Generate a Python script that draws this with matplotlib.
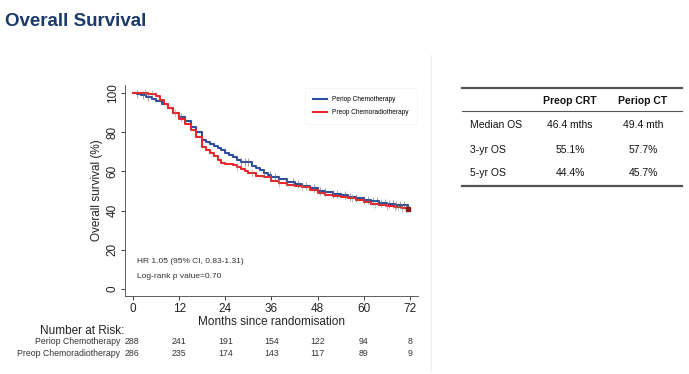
import numpy as np
import matplotlib.pyplot as plt
from matplotlib.transforms import blended_transform_factory

plt.rcParams['font.family'] = ['Liberation Sans', 'DejaVu Sans']

# ---------- Данные ----------
blue_t = [0, 1, 2, 3.5, 5, 6, 7.5, 9, 10.5, 12, 13.5, 15, 16.5, 18, 19, 20, 21, 22, 23, 24,
          25, 26, 27, 28, 30, 31, 32, 33, 34, 35, 36, 38, 40, 42, 44, 46, 48, 50, 52, 54,
          56, 58, 60, 62, 64, 66, 68, 71.5]
blue_s = [100, 99.3, 98.8, 98.1, 97, 96, 94.5, 92.2, 90, 87.9, 85.5, 82.8, 80, 76, 75.2, 74,
          73, 71.8, 70.8, 69.6, 68.2, 67.2, 66, 65, 64.6, 63, 61.6, 60.5, 59.4, 58, 57.3, 56,
          54.8, 53.8, 52.6, 51.5, 50.2, 49.3, 48.5, 47.8, 47.1, 46.3, 45.4, 44.8, 44, 43.4,
          42.9, 42.5]

red_t = [0, 2, 4, 6, 7, 8, 9, 10.5, 12, 13.5, 15, 16.5, 18, 19, 20, 21, 22, 23, 24, 26, 27,
         28, 29, 30, 32, 34, 36, 38, 40, 42, 44, 46, 48, 50, 52, 54, 56, 58, 60, 62, 64, 66,
         68, 70, 71.5]
red_s = [100, 100, 99.6, 98.5, 96.4, 94.5, 92.5, 90, 87, 84, 81, 77.5, 72.6, 71, 69.2, 67.8,
         66, 64.5, 63.6, 63.3, 62.5, 61.2, 60.2, 59.4, 57.7, 57, 55.3, 54.2, 53.1, 52.5, 51.9,
         50.3, 48.8, 48, 47.4, 46.8, 46.3, 45.5, 44.6, 43.5, 42.9, 42.4, 42, 41.5, 41]

# цензурированные наблюдения (месяцы)
blue_cens = [1, 2.5, 4, 12.5, 28, 29, 30, 34, 35.5, 37, 40, 41.5, 43, 45, 47, 48.5, 50, 52,
             53, 55, 56.5, 58, 60, 61, 62.5, 63.5, 64.5, 65.5, 66.5, 67.5, 68.5, 69.5, 70.5]
red_cens = [3, 5, 11, 27, 31, 38, 44, 57, 63, 66, 68, 69, 70, 71]

months = [0, 12, 24, 36, 48, 60, 72]
risk_blue = [288, 241, 191, 154, 122, 94, 8]
risk_red = [286, 235, 174, 143, 117, 89, 9]

tbl_cols = ["Preop CRT", "Periop CT"]
tbl_rows = ["Median OS", "3-yr OS", "5-yr OS"]
tbl_vals = [["46.4 mths", "49.4 mth"], ["55.1%", "57.7%"], ["44.4%", "45.7%"]]

BLUE = "#2f4f9e"
RED = "#e8292c"


def step_at(ts, ss, x):
    """Значение ступенчатой кривой в точке x."""
    i = np.searchsorted(ts, x, side="right") - 1
    return np.asarray(ss)[np.clip(i, 0, len(ss) - 1)]


fig = plt.figure(figsize=(6.89, 3.74), dpi=100)

# заголовок слайда
fig.text(5 / 689, 1 - 22 / 374, "Overall Survival", fontsize=13.5, fontweight="bold",
         color="#1b3a6b", va="center")

# тонкая рамка области графика (как в Stata)
fig.add_artist(plt.Line2D([431 / 689, 431 / 689], [1 - 55 / 374, 1 - 370 / 374],
                          color="#eeeeee", lw=0.8))

ax = fig.add_axes([125 / 689, 1 - 296 / 374, (418 - 125) / 689, (296 - 85) / 374])
ax.set_xlim(-2.08, 74.1)
ax.set_ylim(-3.6, 104.1)

ax.plot(blue_t, blue_s, drawstyle="steps-post", color=BLUE, lw=1.5, label="Periop Chemotherapy")
ax.plot(red_t, red_s, drawstyle="steps-post", color=RED, lw=1.5, label="Preop Chemoradiotherapy")
ax.plot(blue_cens, step_at(blue_t, blue_s, blue_cens), ls="none", marker="|", ms=6,
        mew=0.7, color="#666666", alpha=0.6)
ax.plot(red_cens, step_at(red_t, red_s, red_cens), ls="none", marker="|", ms=6,
        mew=0.7, color="#888888", alpha=0.5)
ax.plot([red_t[-1]], [red_s[-1]], marker="s", ms=3, color="#8b1a1a")

ax.set_xticks(months)
ax.set_yticks([0, 20, 40, 60, 80, 100])
ax.tick_params(axis="both", labelsize=8.5, colors="#222222", length=3, width=0.6)
ax.tick_params(axis="x", pad=2)
ax.tick_params(axis="y", labelrotation=90, pad=1.5)
for lab in ax.get_yticklabels():
    lab.set_va("center")
ax.set_xlabel("Months since randomisation", fontsize=8.5, labelpad=0.5, color="#222222")
ax.set_ylabel("Overall survival (%)", fontsize=8.5, labelpad=3, color="#222222")
for s in ["top", "right"]:
    ax.spines[s].set_visible(False)
for s in ["left", "bottom"]:
    ax.spines[s].set_color("#444444")
    ax.spines[s].set_linewidth(0.6)

leg = ax.legend(loc="upper right", fontsize=4.7, frameon=True, handlelength=2.2,
                borderpad=0.9, labelspacing=0.9, bbox_to_anchor=(1.0, 0.99))
leg.get_frame().set_edgecolor("#eeeeee")
leg.get_frame().set_linewidth(0.5)
leg.get_frame().set_boxstyle("square")

ax.text(0.04, 0.155, "HR 1.05 (95% CI, 0.83-1.31)", transform=ax.transAxes, fontsize=6,
        color="#333333")
ax.text(0.04, 0.085, "Log-rank p value=0.70", transform=ax.transAxes, fontsize=6,
        color="#333333")

# ---------- Number at risk ----------
tr = blended_transform_factory(ax.transData, fig.transFigure)
fig.text(40 / 689, 1 - 331 / 374, "Number at Risk:", fontsize=8.5, color="#222222", va="center")
for yy, name, vals in [(342, "Periop Chemotherapy", risk_blue),
                       (353, "Preop Chemoradiotherapy", risk_red)]:
    yf = 1 - yy / 374
    ax.text(-3.4, yf, name, transform=tr, fontsize=6.3, ha="right", va="center", color="#333333")
    for m, v in zip(months, vals):
        ax.text(m - 0.2 if m == 0 else m, yf, str(v), transform=tr, fontsize=6.3,
                ha="center", va="center", color="#333333")

# ---------- Таблица справа ----------
x0, x1 = 462 / 689, 682 / 689
line_c = "#555555"
fig.add_artist(plt.Line2D([x0, x1], [1 - 88 / 374] * 2, color=line_c, lw=1.6))
fig.add_artist(plt.Line2D([x0, x1], [1 - 111 / 374] * 2, color=line_c, lw=0.8))
fig.add_artist(plt.Line2D([x0, x1], [1 - 186 / 374] * 2, color=line_c, lw=1.6))
col_x = [570 / 689, 643 / 689]
for cx, c in zip(col_x, tbl_cols):
    fig.text(cx, 1 - 101 / 374, c, fontsize=7.5, fontweight="bold", ha="center", va="center",
             color="#111111")
for ry, r, vals in zip([125, 150, 173], tbl_rows, tbl_vals):
    fig.text(470 / 689, 1 - ry / 374, r, fontsize=7.5, va="center", color="#111111")
    for cx, v in zip(col_x, vals):
        fig.text(cx, 1 - ry / 374, v, fontsize=7.5, ha="center", va="center", color="#111111")

fig.savefig("out.png", dpi=100)
